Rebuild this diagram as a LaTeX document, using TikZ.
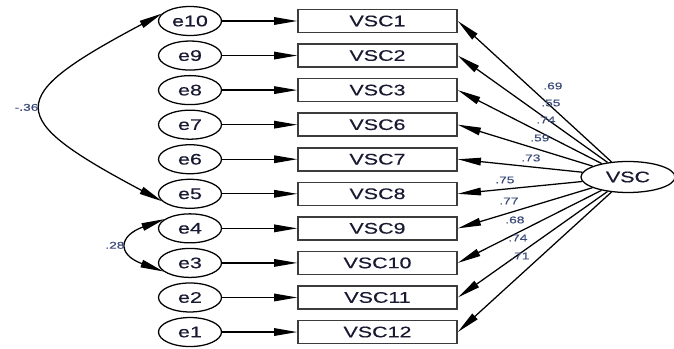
\documentclass[tikz,border=0pt]{standalone}
\usepackage{fontspec}
\newfontfamily\amosfont[FakeStretch=1.4, FakeBold=0.4]{Liberation Sans}
\usetikzlibrary{arrows.meta, shapes.geometric}
\definecolor{txtcol}{RGB}{25,25,50}
\definecolor{wtcol}{RGB}{60,75,120}
\definecolor{boxcol}{RGB}{60,60,60}

\begin{document}
\begin{tikzpicture}[line width=0.9pt, >={Triangle[length=0.58cm, width=0.19cm]},
        err/.style={draw, ellipse, minimum width=1.575cm, minimum height=0.725cm, inner sep=0pt, font=\amosfont\fontsize{10.9}{12}\selectfont, text=txtcol},
        item/.style={draw=boxcol, line width=1.1pt, rectangle, minimum width=3.975cm, minimum height=0.575cm, inner sep=0pt, font=\amosfont\fontsize{10.9}{12}\selectfont, text=txtcol},
        wt/.style={font=\amosfont\fontsize{7}{8}\selectfont, text=wtcol, inner sep=0pt}]
    \useasboundingbox (0,0) rectangle (16.85,-8.725);

    % error terms and observed items
    \foreach \e/\v [count=\k from 0] in {10/1, 9/2, 8/3, 7/6, 6/7, 5/8, 4/9, 3/10, 2/11, 1/12} {
        \node[err] (e\e) at (4.75,-0.525-0.864*\k) {e\e};
        \node[item] (v\v) at (9.4375,-0.525-0.864*\k) {VSC\v};
        \draw[->] (e\e) -- (v\v);
    }

    % latent factor
    \node[draw, ellipse, minimum width=2.35cm, minimum height=0.775cm, inner sep=0pt, font=\amosfont\fontsize{10.9}{12}\selectfont, text=txtcol] (vsc) at (15.7,-4.425) {VSC};

    % loadings
    \foreach \v/\w/\x/\y in {1/.69/553/86, 2/.55/551/103, 3/.74/546/120, 6/.59/540/138, 7/.73/531/158,
                             8/.75/505/180, 9/.77/509/201, 10/.68/515/220, 11/.74/518/238, 12/.71/520/256} {
        \draw[->] (vsc) -- (v\v.east);
        \node[wt] (w\v) at (\x*0.025,-\y*0.025) {\w};
    }

    % covariances
    \draw[<->] (e10.165) to[out=208, in=152, looseness=2.45] node[wt, left=3pt] (c1) {-.36} (e5.195);
    \draw[<->] (e4.160) to[out=200, in=160, looseness=2.4] node[wt, left=3pt] (c2) {.28} (e3.198);
\end{tikzpicture}
\end{document}
